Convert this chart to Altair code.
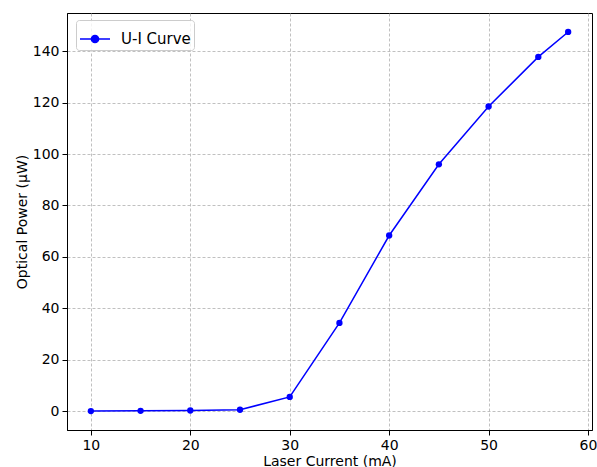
import altair as alt
import pandas as pd

current_ma = [10, 15, 20, 25, 30, 35, 40, 45, 50, 55, 58]
power_uw = [0.0, 0.1, 0.2, 0.5, 5.5, 34.3, 68.3, 96.0, 118.5, 137.8, 147.5]
series_name = ["U-I Curve"] * len(current_ma)
x_ticks = [10, 20, 30, 40, 50, 60]
y_ticks = [0, 20, 40, 60, 80, 100, 120, 140]

df = pd.DataFrame({"current": current_ma, "power": power_uw, "series": series_name})

FONT = "DejaVu Sans"

x_enc = alt.X("current:Q",
              scale=alt.Scale(domain=[7.6, 60.4], nice=False, zero=False),
              axis=alt.Axis(values=x_ticks, title="Laser Current (mA)", format="d"))
y_enc = alt.Y("power:Q",
              scale=alt.Scale(domain=[-7.375, 154.875], nice=False, zero=False),
              axis=alt.Axis(values=y_ticks, title="Optical Power (μW)", format="d"))

legend_path = ("M-1,0L1,0M-0.24,0a0.24,0.24 0 1,0 0.48,0a0.24,0.24 0 1,0 -0.48,0")

color_enc = alt.Color("series:N",
                      scale=alt.Scale(domain=["U-I Curve"], range=["#0000ff"]),
                      legend=alt.Legend(title=None, orient="none", legendX=9, legendY=7,
                                        symbolType=legend_path, symbolSize=900,
                                        symbolStrokeWidth=1.5, symbolFillColor="#0000ff",
                                        labelFontSize=15, labelFont=FONT, labelOffset=10,
                                        padding=3, fillColor="rgba(255,255,255,0.8)",
                                        strokeColor="#cccccc", cornerRadius=3,
                                        labelColor="black"))

line = alt.Chart(df).mark_line(strokeWidth=1.5).encode(x=x_enc, y=y_enc, color=color_enc)
pts = alt.Chart(df).mark_point(filled=True, size=40, opacity=1).encode(
    x=x_enc, y=y_enc, color=alt.Color("series:N", scale=alt.Scale(domain=["U-I Curve"], range=["#0000ff"]), legend=None))

chart = alt.layer(line, pts).properties(
    width=525, height=417,
    autosize=alt.AutoSizeParams(type="none"),
    padding={"left": 67, "top": 13, "right": 5, "bottom": 37},
    background="white",
).configure_view(
    stroke="black", strokeWidth=1
).configure_axis(
    labelFont=FONT, titleFont=FONT, labelFontSize=14, titleFontSize=14,
    labelColor="black", titleColor="black", titleFontWeight="normal",
    domainColor="black", tickColor="black", tickSize=5, labelPadding=3,
    grid=True, gridColor="#b0b0b0", gridDash=[3, 2], gridWidth=0.8,
).configure_axisX(
    titlePadding=2
).configure_axisY(
    titlePadding=3
)

chart.save("out.html", embed_options={"renderer": "svg", "actions": False})
